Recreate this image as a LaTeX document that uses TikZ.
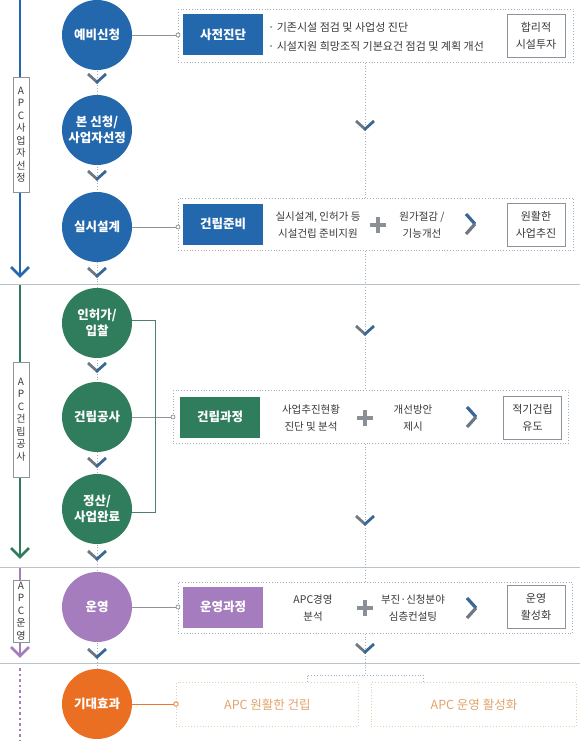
\documentclass[tikz,border=0pt]{standalone}
\usepackage{fontspec}
\setmainfont{Noto Sans CJK KR}
\usetikzlibrary{calc}
\definecolor{cblue}{HTML}{2367AD}
\definecolor{cgreen}{HTML}{2F7D5C}
\definecolor{cpurple}{HTML}{A57DBE}
\definecolor{corange}{HTML}{EA6F22}
\definecolor{ctan}{HTML}{E0A36C}
\definecolor{ctanline}{HTML}{E8CDB0}
\definecolor{cgray}{HTML}{8C939B}
\definecolor{cdot}{HTML}{A3AEB9}
\definecolor{csep}{HTML}{BAC3CB}
\definecolor{cchevg}{HTML}{6E7883}
\definecolor{cchevb}{HTML}{3A6795}
\definecolor{ctext}{HTML}{383838}
\definecolor{cplus}{HTML}{8A9096}
\begin{document}
\begin{tikzpicture}[x=1pt,y=-1pt,
  stage/.style={circle, minimum size=70pt, inner sep=0pt, text=white, align=center,
    font=\fontsize{12.5}{15.5}\selectfont\bfseries},
  tagbox/.style={rectangle, minimum width=80pt, minimum height=41pt, inner sep=0pt, text=white,
    font=\fontsize{12.5}{14}\selectfont\bfseries},
  resultbox/.style={draw=cgray, line width=0.8pt, fill=white, minimum width=58pt, minimum height=43pt,
    inner sep=0pt, align=center, text=ctext, font=\fontsize{11}{17}\selectfont},
  panel/.style={draw=cdot, dotted, line width=0.8pt, anchor=north west, inner sep=0pt},
  opanel/.style={draw=ctanline, dotted, line width=0.9pt, anchor=north west, inner sep=0pt,
    text=ctan, font=\fontsize{12.5}{14}\selectfont},
  bodytext/.style={align=center, text=ctext, font=\fontsize{10.5}{17}\selectfont, inner sep=0pt},
  vlabel/.style={draw=cgray, line width=0.7pt, fill=white, minimum width=16pt, inner sep=0pt,
    align=center, text=ctext, font=\fontsize{10}{12.5}\selectfont},
  dotc/.style={circle, draw=cgray, fill=white, line width=0.7pt, inner sep=0pt, minimum size=4pt},
  conn/.style={cgray, line width=0.9pt},
  vdot/.style={cdot, dotted, line width=0.8pt},
  sep/.style={csep, line width=0.8pt},
  downchev/.pic={\draw[cchevg, line width=2.8pt] (-9,-4) -- (0.8,4.8);
                 \draw[cchevb, line width=2.8pt] (-0.8,4.8) -- (9,-4);},
  rightchev/.pic={\draw[cchevb, line width=3.2pt] (-5,-10) -- (4,0);
                  \draw[cchevg, line width=3.2pt] (4,0) -- (-5,10);},
  plussign/.pic={\draw[cplus, line width=3.5pt] (-8,0) -- (8,0) (0,-8) -- (0,8);}
]
\useasboundingbox (0,0) rectangle (580,741);

% separators
\coordinate (sL1) at (0,284); \coordinate (sR1) at (580,284);
\coordinate (sL2) at (0,567); \coordinate (sR2) at (580,567);
\coordinate (sL3) at (0,663); \coordinate (sR3) at (580,663);
\draw[sep] (sL1) -- (sR1);
\draw[sep] (sL2) -- (sR2);
\draw[sep] (sL3) -- (sR3);

% left phase lines
\coordinate (a0) at (20,0);   \coordinate (a1) at (20,276);
\coordinate (g0) at (20,285); \coordinate (g1) at (20,557);
\coordinate (q0) at (20,568); \coordinate (q1) at (20,656);
\coordinate (d0) at (20,668); \coordinate (d1) at (20,741);
\draw[cblue, line width=2pt] (a0) -- (a1);
\draw[cblue, line width=2.6pt] (11,267) -- (a1) -- (29,267);
\draw[cgreen, line width=2pt] (g0) -- (g1);
\draw[cgreen, line width=2.6pt] (11,548) -- (g1) -- (29,548);
\draw[cpurple, line width=2pt] (q0) -- (q1);
\draw[cpurple, line width=2.6pt] (11,647) -- (q1) -- (29,647);
\draw[cpurple, line width=2.6pt, dash pattern=on 2.5pt off 3pt] (d0) -- (d1);

\node[vlabel, minimum height=115pt] (l1) at (21,134.5) {A\\P\\C\\사\\업\\자\\선\\정};
\node[vlabel, minimum height=115pt] (l2) at (21,419.5) {A\\P\\C\\건\\립\\공\\사};
\node[vlabel, minimum height=62pt] (l3) at (21,611) {A\\P\\C\\운\\영};

% stage circles
\draw[vdot] (97,35) -- (97,704);
\node[stage, fill=cblue] (c1) at (97,35) {예비신청};
\node[stage, fill=cblue] (c2) at (97,130) {본 신청/\\사업자선정};
\node[stage, fill=cblue] (c3) at (97,227) {실시설계};
\node[stage, fill=cgreen] (c4) at (97,323) {인허가/\\입찰};
\node[stage, fill=cgreen] (c5) at (97,417) {건립공사};
\node[stage, fill=cgreen] (c6) at (97,509) {정산/\\사업완료};
\node[stage, fill=cpurple] (c7) at (97,607) {운영};
\node[stage, fill=corange] (c8) at (97,704) {기대효과};

\foreach \yy in {78,175,272,367,462,555,653} \pic at (97,\yy) {downchev};

% panels
\coordinate (ax) at (365,0);
\node[panel, minimum width=395pt, minimum height=53pt] (p1) at (178,9) {};
\node[panel, minimum width=395pt, minimum height=52pt] (p2) at (178,198) {};
\node[panel, minimum width=395pt, minimum height=53pt] (p3) at (173,390) {};
\node[panel, minimum width=394pt, minimum height=51pt] (p4) at (178,582) {};

\draw[vdot] (p1.south -| ax) -- (p2.north -| ax);
\draw[vdot] (p2.south -| ax) -- (p3.north -| ax);
\draw[vdot] (p3.south -| ax) -- (p4.north -| ax);
\coordinate (br) at (365,675);
\coordinate (brL) at (307,675); \coordinate (brR) at (423,675);
\coordinate (brL2) at (307,682); \coordinate (brR2) at (423,682);
\draw[vdot] (p4.south -| ax) -- (br);
\draw[vdot] (brL2) -- (brL) -- (brR) -- (brR2);
\foreach \yy in {125,330,520,648} \pic at (365,\yy) {downchev};

% panel 1
\node[tagbox, fill=cblue] (t1) at (223,35) {사전진단};
\node[bodytext, anchor=west, align=left, font=\fontsize{11}{19}\selectfont] (b1) at (268,37)
  {· 기존시설 점검 및 사업성 진단\\· 시설지원 희망조직 기본요건 점검 및 계획 개선};
\node[resultbox] (r1) at (536,35.5) {합리적\\시설투자};
\draw[conn] (c1.east) -- (c1 -| p1.west) node[dotc] (k1) {};

% panel 2
\node[tagbox, fill=cblue] (t2) at (223,224) {건립준비};
\node[bodytext] (b2a) at (318,225) {실시설계, 인허가 등\\시설건립 준비지원};
\pic at (378,225) {plussign};
\node[bodytext] (b2b) at (422,225) {원가절감 /\\기능개선};
\pic at (471,224) {rightchev};
\node[resultbox] (r2) at (536,224.5) {원활한\\사업추진};
\draw[conn] (c3.east) -- (c3 -| p2.west) node[dotc] (k2) {};

% panel 3
\node[tagbox, fill=cgreen] (t3) at (220,417) {건립과정};
\node[bodytext] (b3a) at (311,418) {사업추진현황\\진단 및 분석};
\pic at (365,418) {plussign};
\node[bodytext] (b3b) at (413,418) {개선방안\\제시};
\pic at (472,417) {rightchev};
\node[resultbox] (r3) at (532.5,417.5) {적기건립\\유도};
\draw[conn] (c5.east) -- (c5 -| p3.west) node[dotc] (k3) {};
\coordinate (gb1) at (155,320);
\coordinate (gb2) at (155,512);
\draw[cgreen!60!gray, line width=1pt] (c4.east |- gb1) -- (gb1) -- (gb2) -- (c6.east |- gb2);

% panel 4
\node[tagbox, fill=cpurple] (t4) at (223,607) {운영과정};
\node[bodytext] (b4a) at (313,608) {APC경영\\분석};
\pic at (365,608) {plussign};
\node[bodytext] (b4b) at (413,608) {부진·신청분야\\심층컨설팅};
\pic at (472,608) {rightchev};
\node[resultbox] (r4) at (536,607) {운영\\활성화};
\draw[conn] (c7.east) -- (c7 -| p4.west) node[dotc] (k4) {};

% expected effects
\node[opanel, minimum width=182pt, minimum height=44pt] (e1) at (176,682) {APC 원활한 건립};
\node[opanel, minimum width=205pt, minimum height=44pt] (e2) at (371,682) {APC 운영 활성화};
\draw[corange!80!ctan, line width=1pt] (c8.east) -- (c8 -| e1.west)
  node[circle, draw=corange!80!ctan, fill=white, line width=0.8pt, inner sep=0pt, minimum size=4.5pt] (k5) {};
\end{tikzpicture}
\end{document}
